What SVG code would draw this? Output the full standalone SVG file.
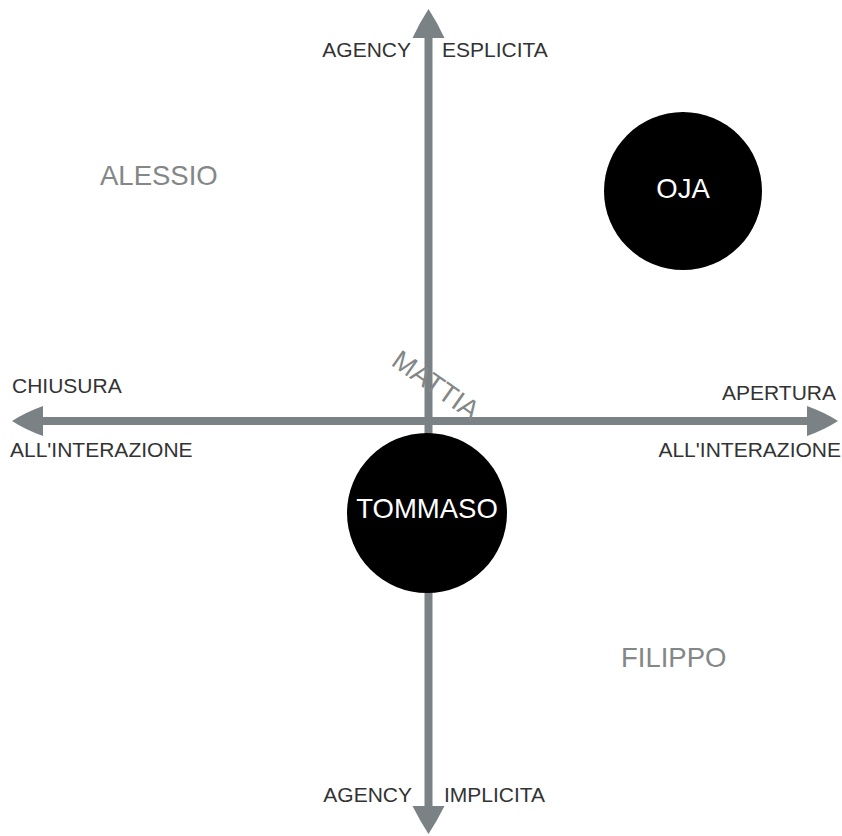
<svg xmlns="http://www.w3.org/2000/svg" width="842" height="836" viewBox="0 0 842 836">
  <style>
    .axis { stroke: #7b8285; stroke-width: 8; fill: none; }
    .head { fill: #7b8285; stroke: none; }
    .lbl { font-family: "Liberation Sans", Arial, sans-serif; font-size: 21px; fill: #333333; }
    .name { font-family: "Liberation Sans", Arial, sans-serif; font-size: 27.5px; fill: #838787; }
    .dot { fill: #000000; }
    .dot-text { font-family: "Liberation Sans", Arial, sans-serif; font-size: 27.5px; fill: #ffffff; text-anchor: middle; }
  </style>
  <rect width="842" height="836" fill="#ffffff"/>

  <!-- axes -->
  <g id="connectors">
    <line class="axis" x1="428.5" y1="34" x2="428.5" y2="808"/>
    <line class="axis" x1="40" y1="421" x2="810" y2="421"/>
    <!-- up -->
    <path class="head" d="M428.5,9 Q437,22 444.5,38 L412.5,38 Q420,22 428.5,9 Z"/>
    <!-- down -->
    <path class="head" d="M428.5,834 Q437,821 444.5,806 L412.5,806 Q420,821 428.5,834 Z"/>
    <!-- left -->
    <path class="head" d="M12,421 Q25,412.5 43,406 L43,436 Q25,429.5 12,421 Z"/>
    <!-- right -->
    <path class="head" d="M838,421 Q825,412.5 807,406 L807,436 Q825,429.5 838,421 Z"/>
  </g>

  <!-- axis labels -->
  <g id="axis-labels">
    <text class="lbl" x="411" y="57" text-anchor="end">AGENCY</text>
    <text class="lbl" x="442" y="57">ESPLICITA</text>
    <text class="lbl" x="412" y="802" text-anchor="end">AGENCY</text>
    <text class="lbl" x="444" y="802">IMPLICITA</text>
    <text class="lbl" x="12" y="393">CHIUSURA</text>
    <text class="lbl" x="10" y="457">ALL'INTERAZIONE</text>
    <text class="lbl" x="836" y="400" text-anchor="end">APERTURA</text>
    <text class="lbl" x="841" y="457" text-anchor="end">ALL'INTERAZIONE</text>
  </g>

  <g id="alessio">
    <text class="name" x="100" y="185">ALESSIO</text>
  </g>
  <g id="filippo">
    <text class="name" x="621" y="667">FILIPPO</text>
  </g>
  <g id="mattia">
    <text class="name" text-anchor="middle" transform="translate(436,385) rotate(35)" y="9.5">MATTIA</text>
  </g>

  <g id="oja">
    <circle class="dot" cx="683" cy="191" r="79"/>
    <text class="dot-text" x="683" y="198">OJA</text>
  </g>
  <g id="tommaso">
    <circle class="dot" cx="427" cy="513" r="80"/>
    <text class="dot-text" x="427" y="518">TOMMASO</text>
  </g>
</svg>
